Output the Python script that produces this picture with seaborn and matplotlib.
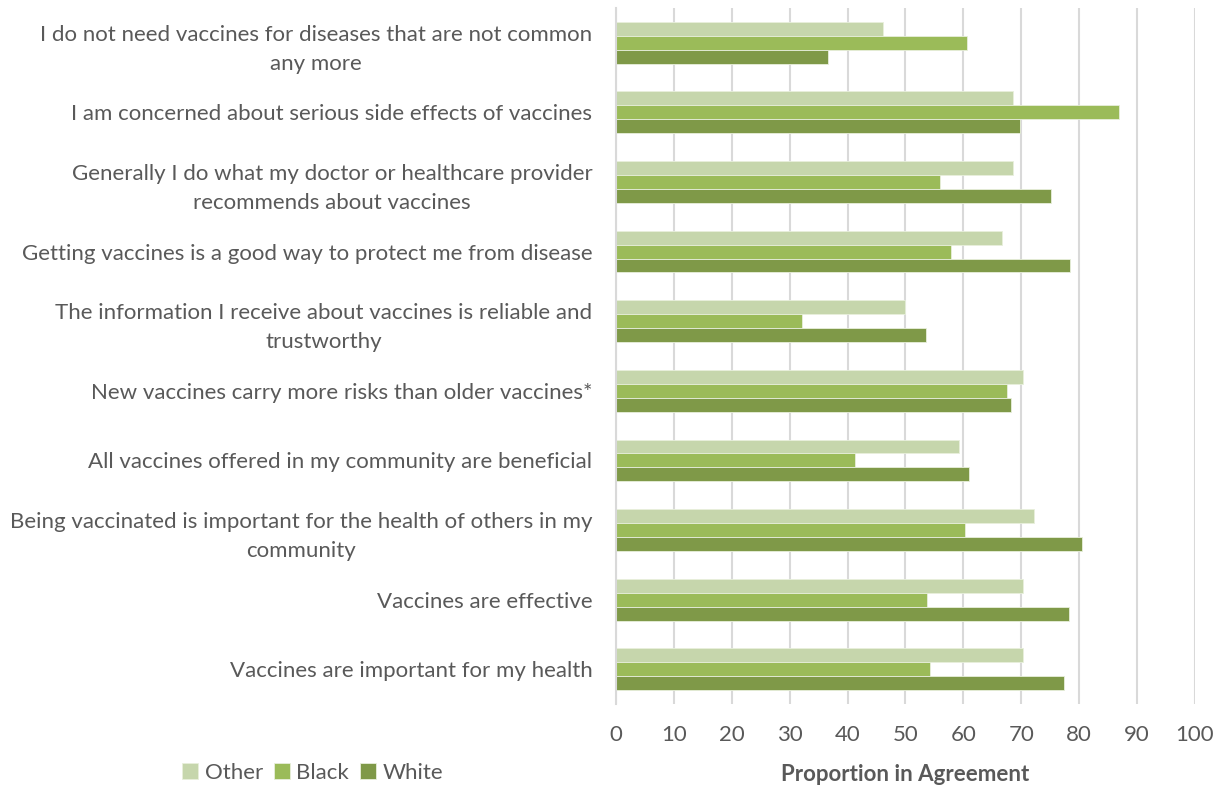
import pandas as pd
import matplotlib
matplotlib.use('Agg')
import matplotlib.pyplot as plt
import seaborn as sns

statements = [
    'I do not need vaccines for diseases that are not common\nany more',
    'I am concerned about serious side effects of vaccines',
    'Generally I do what my doctor or healthcare provider\nrecommends about vaccines',
    'Getting vaccines is a good way to protect me from disease',
    'The information I receive about vaccines is reliable and\ntrustworthy',
    'New vaccines carry more risks than older vaccines*',
    'All vaccines offered in my community are beneficial',
    'Being vaccinated is important for the health of others in my\ncommunity',
    'Vaccines are effective',
    'Vaccines are important for my health',
]
groups = ['Other', 'Black', 'White']
other = [46.2, 68.5, 68.5, 66.7, 50.0, 70.3, 59.3, 72.2, 70.3, 70.3]
black = [60.7, 86.9, 55.9, 57.9, 32.1, 67.5, 41.3, 60.3, 53.8, 54.2]
white = [36.7, 69.7, 75.1, 78.5, 53.5, 68.2, 61.0, 80.5, 78.2, 77.4]
x_ticks = [0, 10, 20, 30, 40, 50, 60, 70, 80, 90, 100]

colors = ['#C6D6AC', '#9BBB59', '#7F9948']

df = pd.DataFrame({'Statement': statements, 'Other': other, 'Black': black, 'White': white})
long = df.melt(id_vars='Statement', var_name='Group', value_name='Proportion')

sns.set_style('white')
plt.rcParams['font.family'] = ['Lato', 'DejaVu Sans']

fig = plt.figure(figsize=(12.26, 7.92), dpi=100)
ax = fig.add_axes([0.5024, 0.111, 0.4723, 0.879])

sns.barplot(data=long, x='Proportion', y='Statement', hue='Group', hue_order=groups,
            order=statements, palette=colors, saturation=1, width=0.6, orient='h',
            edgecolor='#E8EFDC', linewidth=0.6, ax=ax)

ax.set_xlim(0, 100)
ax.set_xticks(x_ticks)
ax.xaxis.grid(True, color='#D9D9D9', linewidth=1.5)
ax.set_axisbelow(True)
for s in ['top', 'right', 'bottom']:
    ax.spines[s].set_visible(False)
ax.spines['left'].set_color('#D9D9D9')
ax.spines['left'].set_linewidth(1.5)

ax.tick_params(axis='y', length=0, pad=17, labelsize=16, labelcolor='#595959')
ax.tick_params(axis='x', length=0, pad=15, labelsize=16, labelcolor='#595959')
for lbl in ax.get_yticklabels():
    lbl.set_multialignment('center')
    lbl.set_linespacing(1.55)

ax.set_ylabel('')
ax.set_xlabel('Proportion in Agreement', fontsize=16, fontweight='bold', color='#595959', labelpad=14)

handles, labels = ax.get_legend_handles_labels()
ax.legend_.remove()
fig.legend(handles, labels, loc='center', bbox_to_anchor=(0.255, 0.024), ncol=3, frameon=False,
           handlelength=0.7, handleheight=0.7, handletextpad=0.3, columnspacing=0.5,
           fontsize=16, labelcolor='#595959')

fig.savefig('out.png', dpi=100)
